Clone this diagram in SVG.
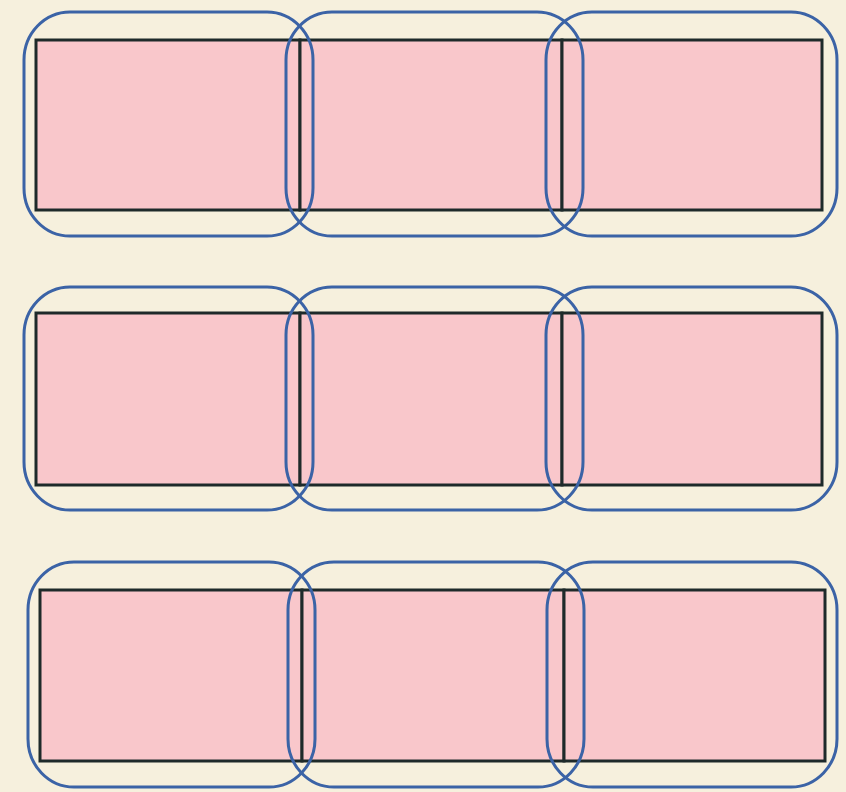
<svg xmlns="http://www.w3.org/2000/svg" width="846" height="792" viewBox="0 0 846 792">
<style>
.cell{fill:#f9c7cb;stroke:#1e2a2a;stroke-width:3}
.ring{fill:none;stroke:#3b63a6;stroke-width:3}
</style>
<rect x="0" y="0" width="846" height="792" fill="#f6f0dd"/>
<g id="row1">
<g id="r1c1"><rect class="cell" x="36" y="40" width="264" height="170"/></g>
<g id="r1c2"><rect class="cell" x="300" y="40" width="262" height="170"/></g>
<g id="r1c3"><rect class="cell" x="562" y="40" width="260" height="170"/></g>
<rect class="ring" x="24" y="12" width="289" height="224" rx="46" ry="48"/>
<rect class="ring" x="286" y="12" width="297" height="224" rx="46" ry="48"/>
<rect class="ring" x="546" y="12" width="291" height="224" rx="46" ry="48"/>
</g>
<g id="row2">
<g id="r2c1"><rect class="cell" x="36" y="313" width="264" height="172"/></g>
<g id="r2c2"><rect class="cell" x="300" y="313" width="262" height="172"/></g>
<g id="r2c3"><rect class="cell" x="562" y="313" width="260" height="172"/></g>
<rect class="ring" x="24" y="287" width="289" height="223" rx="46" ry="48"/>
<rect class="ring" x="286" y="287" width="297" height="223" rx="46" ry="48"/>
<rect class="ring" x="546" y="287" width="291" height="223" rx="46" ry="48"/>
</g>
<g id="row3">
<g id="r3c1"><rect class="cell" x="40" y="590" width="262" height="171"/></g>
<g id="r3c2"><rect class="cell" x="302" y="590" width="262" height="171"/></g>
<g id="r3c3"><rect class="cell" x="564" y="590" width="261" height="171"/></g>
<rect class="ring" x="28" y="562" width="287" height="225" rx="46" ry="48"/>
<rect class="ring" x="288" y="562" width="296" height="225" rx="46" ry="48"/>
<rect class="ring" x="547" y="562" width="290" height="225" rx="46" ry="48"/>
</g>
<g id="connectors"/>
</svg>
